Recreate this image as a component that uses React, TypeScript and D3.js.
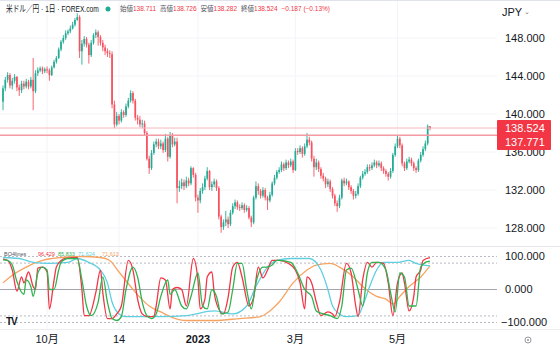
import React, { useEffect, useRef } from 'react';
import * as d3 from 'd3';

// daily USD/JPY candles, open = previous close
const firstOpen = 141.3;
const closes = [
  142.7, 143.6, 144.1, 143.0, 143.5, 143.9, 142.8, 142.5, 143.2, 142.9,
  143.4, 142.9, 143.6, 142.4, 144.3, 144.6, 144.8, 144.5, 144.7, 144.6,
  144.1, 144.9, 145.5, 145.9, 146.8, 147.6, 148.0, 148.5, 148.7, 149.0,
  149.4, 149.9, 150.2, 146.6, 147.4, 147.9, 147.3, 146.2, 147.5, 148.3,
  148.6, 148.1, 147.5, 147.0, 146.6, 146.4, 146.3, 141.0, 138.9, 139.8,
  139.3, 140.2, 139.9, 140.8, 141.4, 142.2, 141.4, 139.6, 139.4, 138.9,
  139.0, 138.0, 135.3, 134.3, 135.9, 136.8, 137.1, 136.6, 136.9, 136.2,
  137.4, 135.5, 137.8, 136.8, 137.1, 132.2, 132.4, 132.8, 132.4, 133.0,
  132.7, 134.3, 133.6, 131.2, 130.9, 131.9, 132.3, 133.2, 134.0, 132.3,
  132.6, 132.9, 132.2, 129.2, 128.1, 128.6, 128.9, 128.4, 129.6, 130.3,
  130.7, 130.2, 130.1, 130.4, 129.9, 130.1, 129.1, 128.6, 131.2, 132.4,
  131.9, 131.4, 132.0, 131.2, 130.9, 131.5, 132.7, 133.3, 133.9, 134.1,
  134.7, 134.3, 134.9, 134.6, 135.0, 134.1, 136.1, 136.0, 136.4, 135.8,
  136.6, 137.3, 137.0, 135.3, 134.4, 134.9, 134.2, 133.5, 133.2, 132.6,
  132.9, 132.1, 131.4, 130.6, 130.3, 131.2, 133.0, 132.7, 132.9, 132.3,
  131.9, 131.4, 131.6, 132.4, 133.3, 133.7, 133.9, 134.4, 134.3, 134.6,
  134.9, 134.6, 134.8, 134.3, 134.0, 133.7, 133.4, 134.0, 135.7, 136.6,
  137.4, 136.7, 134.8, 134.3, 135.0, 135.2, 134.8, 134.3, 134.1, 135.1,
  135.7, 136.3, 136.9, 138.711, 138.524,
];
const highs = [
  143.0, 143.9, 144.4, 144.3, 143.8, 144.2, 144.0, 143.1, 143.5, 143.5,
  143.7, 143.6, 143.9, 145.9, 144.6, 144.9, 145.0, 145.0, 144.9, 145.0,
  144.8, 145.1, 145.7, 146.1, 147.0, 147.8, 148.3, 148.8, 148.9, 149.3,
  149.7, 150.1, 150.6, 150.4, 147.8, 148.2, 148.1, 147.5, 147.8, 148.5,
  148.9, 148.8, 148.3, 147.8, 147.3, 146.9, 146.7, 146.6, 141.4, 140.2,
  140.0, 140.5, 140.4, 141.1, 141.7, 142.5, 142.4, 141.6, 139.9, 139.8,
  139.4, 139.3, 138.2, 135.6, 136.2, 137.1, 137.4, 137.4, 137.3, 137.1,
  137.9, 137.6, 138.1, 138.0, 137.5, 137.5, 133.0, 133.2, 133.1, 133.4,
  133.3, 134.5, 134.4, 133.8, 131.5, 132.2, 132.7, 133.5, 134.4, 134.1,
  132.9, 133.2, 133.1, 132.4, 129.4, 128.9, 129.8, 129.2, 129.9, 130.6,
  131.0, 130.9, 130.5, 130.7, 130.6, 130.4, 130.3, 129.3, 131.4, 132.9,
  132.7, 132.1, 132.3, 132.2, 131.4, 131.8, 132.9, 133.6, 134.1, 134.4,
  135.0, 134.9, 135.2, 135.1, 135.3, 135.2, 136.4, 136.4, 136.7, 136.6,
  136.9, 138.0, 137.6, 137.2, 135.6, 135.3, 135.1, 134.4, 133.8, 133.4,
  133.2, 133.1, 132.3, 131.6, 130.9, 131.5, 133.2, 133.3, 133.2, 133.0,
  132.5, 132.1, 131.9, 132.7, 133.5, 134.0, 134.2, 134.7, 134.7, 134.9,
  135.2, 135.1, 135.1, 135.0, 134.5, 134.2, 133.9, 134.3, 135.9, 136.9,
  137.8, 137.6, 136.9, 135.0, 135.3, 135.5, 135.4, 135.0, 134.5, 135.3,
  136.0, 136.6, 137.2, 138.9, 138.726,
];
const lows = [
  140.4, 142.4, 143.3, 142.7, 142.6, 143.2, 142.4, 141.9, 142.2, 142.6,
  142.7, 142.6, 142.7, 140.4, 142.2, 144.0, 144.4, 144.2, 144.3, 144.3,
  143.5, 144.0, 144.8, 145.3, 145.8, 146.6, 147.4, 147.8, 148.3, 148.5,
  148.9, 149.2, 149.8, 145.9, 145.2, 147.1, 147.0, 145.3, 146.0, 147.3,
  148.0, 147.2, 147.2, 146.6, 146.2, 146.0, 145.9, 140.6, 138.5, 138.7,
  138.9, 139.1, 139.6, 139.7, 140.6, 141.2, 141.1, 139.3, 138.9, 138.6,
  138.5, 137.7, 135.1, 133.7, 134.1, 135.7, 136.5, 136.3, 136.3, 135.9,
  136.0, 135.0, 135.3, 136.5, 136.6, 130.6, 131.8, 132.1, 132.0, 132.2,
  132.4, 132.5, 133.3, 130.8, 129.6, 130.6, 131.6, 132.0, 133.0, 132.0,
  131.9, 132.3, 131.9, 128.9, 127.5, 127.8, 128.2, 128.0, 128.2, 129.4,
  130.0, 129.9, 129.8, 129.9, 129.6, 129.7, 128.9, 128.1, 128.4, 131.0,
  131.5, 131.1, 131.2, 130.9, 129.9, 130.7, 131.3, 132.5, 133.1, 133.7,
  133.9, 134.0, 134.1, 134.3, 134.4, 133.8, 134.0, 135.7, 135.8, 135.4,
  135.6, 136.4, 136.7, 135.0, 133.4, 134.1, 133.9, 133.2, 132.9, 132.2,
  132.3, 131.8, 131.1, 130.3, 129.7, 130.1, 131.0, 132.4, 132.5, 132.0,
  131.6, 131.0, 131.1, 131.4, 132.2, 133.1, 133.5, 133.7, 134.0, 134.1,
  134.4, 134.3, 134.4, 134.0, 133.7, 133.4, 133.0, 133.2, 133.8, 135.5,
  136.4, 136.4, 134.5, 134.0, 134.1, 134.8, 134.5, 134.0, 133.8, 133.9,
  134.9, 135.5, 136.1, 136.7, 138.282,
];

const lastPrice = 138.524;
const markPrice = 137.771;

const priceTicks = [128, 132, 136, 140, 144, 148];
const oscTicks = [100, 0, -100];
const oscLevels = [100, 80, -80, -100];
const timeTicks = [19, 50, 84, 126, 170];
const timeLabels = ['10月', '14', '2023', '3月', '5月'];

// BO4lines oscillator, [bar index, value]
const fastLine = [
  [0, 92], [2, 88], [4, 59], [6, -5], [8, 38], [9, 20], [11, 53], [13, 9], [14, 0], [15, 65],
  [17, 68], [19, 53], [20, -59], [22, 29], [23, 68], [25, 88], [27, 94], [32, 97], [34, 0],
  [35, -79], [37, -79], [40, -9], [42, 59], [43, -9], [45, -88], [47, -88], [49, -74], [51, -50],
  [54, 88], [56, 59], [58, -29], [60, -74], [62, -82], [65, -82], [66, -50], [68, 35], [70, 29],
  [72, -59], [73, 0], [75, 6], [77, 0], [79, -50], [82, 94], [84, 29], [85, -59], [87, -29],
  [88, 38], [90, 53], [91, -9], [93, -59], [95, -74], [97, -24], [99, 68], [101, 82], [103, 38],
  [106, -50], [108, -24], [110, 68], [112, 35], [114, 59], [116, 88], [119, 88], [123, 79],
  [126, 59], [128, 20], [130, -59], [131, 38], [133, 20], [135, -38], [137, -79], [140, -68],
  [142, -74], [143, -82], [145, -38], [148, 79], [150, 50], [152, -50], [153, -82], [155, 29],
  [157, 82], [159, 68], [161, 82], [164, 79], [166, 20], [168, -79], [170, 20], [172, 50],
  [173, 20], [175, -65], [177, -21], [178, 38], [180, 59], [181, 88], [184, 96.4],
];
const slowLine = [
  [0, 90], [2, 88], [4, 74], [6, 24], [9, -15], [10, 29], [12, 9], [13, -21], [15, 50], [17, 68],
  [19, 59], [20, 0], [22, 0], [24, 59], [25, 82], [28, 94], [32, 94], [34, 29], [36, -50],
  [38, -79], [41, -38], [43, 38], [45, -38], [47, -88], [49, -94], [51, -82], [53, 0], [56, 68],
  [58, 38], [60, -38], [62, -79], [64, -88], [66, -74], [68, -21], [71, 29], [72, -15], [74, 0],
  [77, -50], [79, -59], [81, -21], [84, 50], [86, -50], [88, -59], [90, 0], [92, -21], [94, -74],
  [97, -68], [99, 0], [101, 79], [103, 79], [105, 0], [107, -59], [109, 20], [112, 68], [114, 68],
  [116, 74], [118, 88], [119, 88], [124, 82], [127, 50], [130, 0], [133, -21], [135, -65],
  [138, -74], [141, -79], [144, -88], [146, -50], [148, 59], [150, 65], [153, 0], [155, -50],
  [157, 50], [159, 82], [162, 82], [165, 59], [167, -9], [169, -68], [171, 50], [173, 38],
  [175, -50], [178, -50], [180, 68], [182, 82], [184, 85.8],
];
const trendLine = [
  [0, 97], [7, 94], [13, 82], [20, 79], [28, 82], [32, 94], [37, 82], [42, 59], [45, 20],
  [47, -38], [50, -74], [53, -82], [59, -82], [68, -82], [79, -79], [91, -65], [99, -74],
  [105, -50], [109, 9], [114, 68], [118, 88], [124, 94], [132, 94], [137, 59], [140, 0],
  [142, -50], [145, -74], [148, -82], [153, -79], [155, -50], [158, 9], [161, 59], [164, 82],
  [170, 82], [175, 88], [178, 79], [184, 71.6],
];
const cycleLine = [
  [0, 20], [3, 38], [10, 68], [17, 88], [25, 97], [34, 100], [42, 97], [46, 88], [50, 53],
  [55, 9], [59, -24], [63, -50], [68, -68], [73, -85], [79, -94], [91, -94], [102, -88],
  [111, -82], [115, -65], [119, -38], [125, 20], [131, 59], [135, 74], [141, 79], [145, 68],
  [151, 38], [155, 9], [161, -21], [165, -29], [168, -44], [171, -21], [175, 9], [180, 38],
  [184, 71.6],
];
const legendValues = ['96.429', '85.833', '71.624', '71.613'];

const headerFields = [
  ['始値', '138.711'],
  ['高値', '138.726'],
  ['安値', '138.282'],
  ['終値', '138.524'],
];
const headerChange = '−0.187 (−0.13%)';

const App = () => {
  const svgRef = useRef(null);

  useEffect(() => {
    const width = 560;
    const height = 352;
    const plotRight = 497;
    const font = '"Liberation Sans", "Noto Sans CJK JP", sans-serif';
    const up = '#22ab94';
    const down = '#f7525f';
    const lineColors = ['#f23645', '#2fb350', '#5fcfe0', '#f7a463'];

    const svg = d3.select(svgRef.current);
    svg.selectAll('*').remove();
    svg.attr('width', width).attr('height', height).style('font-family', font);

    const x = d3.scaleLinear().domain([0, closes.length - 1]).range([3, 430]);
    const y = d3.scaleLinear().domain([128, 148]).range([228, 38]);
    const yo = d3.scaleLinear().domain([-100, 100]).range([322.5, 256.5]);

    svg.append('rect').attr('width', width).attr('height', height).attr('fill', '#fff');

    // grid
    svg.append('g').selectAll('line').data(priceTicks).join('line')
      .attr('x1', 0).attr('x2', plotRight)
      .attr('y1', (d) => y(d)).attr('y2', (d) => y(d))
      .attr('stroke', '#f3f4f7');
    svg.append('g').selectAll('line').data(timeTicks).join('line')
      .attr('x1', (d) => x(d)).attr('x2', (d) => x(d))
      .attr('y1', 0).attr('y2', 330)
      .attr('stroke', '#f3f4f7');

    // frame and pane separators
    svg.append('line').attr('x1', 0).attr('x2', width).attr('y1', 0.5).attr('y2', 0.5).attr('stroke', '#e0e3eb');
    svg.append('line').attr('x1', 0).attr('x2', width).attr('y1', 246.5).attr('y2', 246.5).attr('stroke', '#e6e8ee');
    svg.append('line').attr('x1', 0).attr('x2', width).attr('y1', 329.5).attr('y2', 329.5).attr('stroke', '#eceef2');

    // candles
    const candles = closes.map((c, i) => ({
      i,
      o: i === 0 ? firstOpen : closes[i - 1],
      h: highs[i],
      l: lows[i],
      c,
    }));
    const cg = svg.append('g');
    cg.selectAll('line').data(candles).join('line')
      .attr('x1', (d) => x(d.i)).attr('x2', (d) => x(d.i))
      .attr('y1', (d) => y(d.h)).attr('y2', (d) => y(d.l))
      .attr('stroke', (d) => (d.c >= d.o ? up : down))
      .attr('stroke-width', 0.9);
    cg.selectAll('rect').data(candles).join('rect')
      .attr('x', (d) => x(d.i) - 0.85)
      .attr('width', 1.7)
      .attr('y', (d) => y(Math.max(d.o, d.c)))
      .attr('height', (d) => Math.max(0.8, Math.abs(y(d.o) - y(d.c))))
      .attr('fill', (d) => (d.c >= d.o ? up : down));

    // price lines
    svg.append('line').attr('x1', 0).attr('x2', plotRight)
      .attr('y1', y(lastPrice)).attr('y2', y(lastPrice))
      .attr('stroke', '#f7b8bf').attr('stroke-width', 1);
    svg.append('line').attr('x1', 0).attr('x2', plotRight)
      .attr('y1', y(markPrice)).attr('y2', y(markPrice))
      .attr('stroke', '#f59aa5').attr('stroke-width', 1.6);

    // right price axis
    svg.append('g').selectAll('text').data(priceTicks).join('text')
      .attr('x', 505).attr('y', (d) => y(d)).attr('dy', '0.35em')
      .attr('font-size', 11).attr('fill', '#131722')
      .text((d) => d3.format('.3f')(d));

    // price labels box
    svg.append('rect').attr('x', 497).attr('y', 120).attr('width', 54).attr('height', 30)
      .attr('rx', 1).attr('fill', '#f23645');
    svg.append('text').attr('x', 505).attr('y', 131.5).attr('font-size', 11).attr('fill', '#fff')
      .text(d3.format('.3f')(lastPrice));
    svg.append('text').attr('x', 505).attr('y', 146).attr('font-size', 11).attr('fill', '#fff')
      .text(d3.format('.3f')(markPrice));

    // oscillator levels
    svg.append('g').selectAll('line').data(oscLevels).join('line')
      .attr('x1', 0).attr('x2', plotRight)
      .attr('y1', (d) => yo(d)).attr('y2', (d) => yo(d))
      .attr('stroke', '#b8bbc4').attr('stroke-dasharray', '2,2');
    svg.append('line').attr('x1', 0).attr('x2', plotRight)
      .attr('y1', yo(0)).attr('y2', yo(0)).attr('stroke', '#a3a6af');

    const line = d3.line()
      .x((d) => x(d[0]))
      .y((d) => yo(d[1]))
      .curve(d3.curveMonotoneX);
    [cycleLine, trendLine, fastLine, slowLine].forEach((series, k) => {
      const colorIdx = [3, 2, 0, 1][k];
      svg.append('path').datum(series)
        .attr('d', line)
        .attr('fill', 'none')
        .attr('stroke', lineColors[colorIdx])
        .attr('stroke-width', 1.3)
        .attr('stroke-linejoin', 'round');
    });

    svg.append('g').selectAll('text').data(oscTicks).join('text')
      .attr('x', (d) => (d < 0 ? 501 : 505)).attr('y', (d) => yo(d)).attr('dy', '0.35em')
      .attr('font-size', 11).attr('fill', '#131722')
      .text((d) => d3.format('.3f')(d).replace('-', '−'));

    // oscillator legend
    svg.append('text').attr('x', 4).attr('y', 256).attr('font-size', 5.5)
      .attr('fill', '#50535e').text('BO4lines');
    [38, 58, 78, 102].forEach((px, k) => {
      svg.append('text').attr('x', px).attr('y', 256).attr('font-size', 5.5)
        .attr('fill', lineColors[k]).text(legendValues[k]);
    });

    // TV logo
    svg.append('text').attr('x', 6).attr('y', 325).attr('font-size', 10)
      .attr('font-weight', 'bold').attr('fill', '#131722').attr('letter-spacing', -1).text('TV');

    // time axis
    svg.append('g').selectAll('text').data(timeTicks).join('text')
      .attr('x', (d) => x(d)).attr('y', 343)
      .attr('text-anchor', 'middle')
      .attr('font-size', 11)
      .attr('font-weight', (d, i) => (timeLabels[i] === '2023' ? 'bold' : 'normal'))
      .attr('fill', '#131722')
      .text((d, i) => timeLabels[i]);

    // settings icon
    svg.append('circle').attr('cx', 528).attr('cy', 340).attr('r', 3)
      .attr('fill', 'none').attr('stroke', '#9598a1').attr('stroke-width', 1);
    svg.append('circle').attr('cx', 528).attr('cy', 340).attr('r', 1).attr('fill', '#9598a1');

    // header (title squeezed horizontally like the narrow UI font)
    svg.append('text')
      .attr('transform', 'translate(6,12) scale(0.74,1)')
      .attr('font-size', 9).attr('fill', '#131722')
      .text('米ドル／円 · 1日 · FOREX.com');
    svg.append('circle').attr('cx', 108).attr('cy', 9).attr('r', 2.5).attr('fill', up);
    const ht = svg.append('text').attr('x', 120).attr('y', 11).attr('font-size', 6.5);
    headerFields.forEach(([label, value], k) => {
      ht.append('tspan').attr('fill', '#50535e').attr('dx', k === 0 ? 0 : 4).text(label);
      ht.append('tspan').attr('fill', '#f23645').text(value);
    });
    ht.append('tspan').attr('fill', '#f23645').attr('dx', 4).text(headerChange);

    svg.append('text').attr('x', 502).attr('y', 16).attr('font-size', 11).attr('fill', '#131722')
      .text('JPY');
    svg.append('text').attr('x', 524).attr('y', 14).attr('font-size', 7).attr('fill', '#787b86')
      .text('⌄');
  }, []);

  return (
    <div style={{ position: 'fixed', left: 0, top: 0, width: 560, height: 352, background: '#fff' }}>
      <svg ref={svgRef}></svg>
    </div>
  );
};

export default App;
